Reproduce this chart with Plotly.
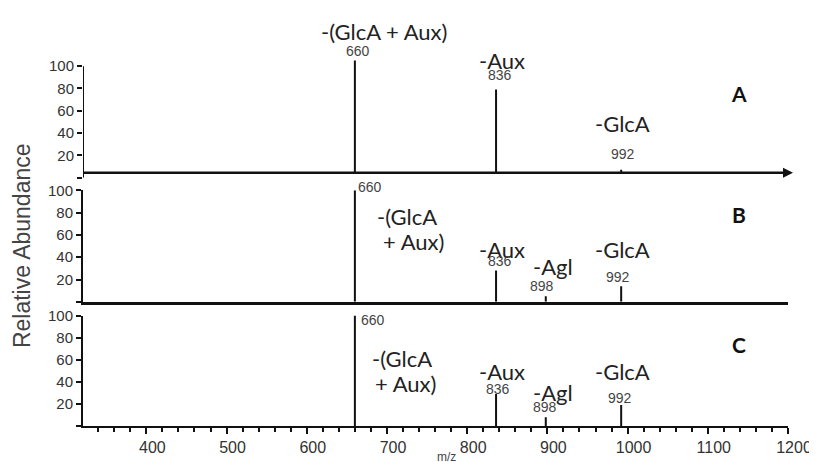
import plotly.graph_objects as go

# ---- data ----
peak_mz = [660, 836, 898, 992]
abund_A = [105, 79, 0, 7]
abund_B = [100, 28, 5, 14]
abund_C = [100, 29, 8, 19]
x_ticks = [400, 500, 600, 700, 800, 900, 1000, 1100, 1200]
y_ticks = [0, 20, 40, 60, 80, 100]
y_ticktext = ["", "20", "40", "60", "80", "100"]

X_RANGE = [321, 1200]
BASE_A = 4.4

# page geometry (plot area in page pixels: x 83..788, y 20..426)
PX0, PX1, PY1, PH = 83, 788, 426, 406


def P(px, py):
    return (px - PX0) / (PX1 - PX0), (PY1 - py) / PH


TICKFONT = dict(family="Liberation Sans, Arial", size=15, color="#333")
LBLFONT = dict(family="Lato, sans-serif", size=22, color="#222")
BOLDFONT = dict(family="Lato, sans-serif", size=21, color="#111")
NUMFONT = dict(family="Liberation Sans, Arial", size=14, color="#444")


def stems(mz, ab, base=0.0):
    xs, ys = [], []
    for m, a in zip(mz, ab):
        if a <= 0:
            continue
        xs += [m, m, None]
        ys += [base, a, None]
    return xs, ys


fig = go.Figure()
for (ab, xa, ya, base) in [(abund_A, "x3", "y3", BASE_A), (abund_B, "x2", "y2", 0), (abund_C, "x", "y", 0)]:
    xs, ys = stems(peak_mz, ab, base)
    fig.add_trace(go.Scatter(x=xs, y=ys, mode="lines", line=dict(color="#111", width=2),
                             xaxis=xa, yaxis=ya, showlegend=False, hoverinfo="skip"))

yax_common = dict(tickvals=y_ticks, ticktext=y_ticktext,
                  linecolor="#111", linewidth=2, ticks="outside", ticklen=5, tickwidth=1.5,
                  tickcolor="#111", showgrid=False, zeroline=False, tickfont=TICKFONT, fixedrange=True)

fig.update_layout(
    width=817, height=462, plot_bgcolor="white", paper_bgcolor="white",
    margin=dict(l=75, r=37, t=12, b=44),
    xaxis=dict(domain=[0, 1], anchor="y", range=X_RANGE, tickvals=x_ticks, showline=True,
               linecolor="#111", linewidth=2, ticks="outside", ticklen=6, tickwidth=1.5,
               tickcolor="#111", showgrid=False, zeroline=False, ticklabelshift=6,
               tickfont=dict(family="Liberation Sans, Arial", size=16, color="#333"),
               minor=dict(dtick=20, tick0=0, ticks="outside", ticklen=4, tickcolor="#111", tickwidth=1.5)),
    xaxis2=dict(domain=[0, 1], anchor="y2", range=X_RANGE, showline=True, linecolor="#111",
                linewidth=2.5, showticklabels=False, ticks="", showgrid=False, zeroline=False),
    xaxis3=dict(domain=[0, 1], anchor="y3", range=X_RANGE, showline=False,
                showticklabels=False, ticks="", showgrid=False, zeroline=False),
    yaxis=dict(domain=[0, P(0, 313)[1]], anchor="x", range=[0, 100], showline=True, **yax_common),
    yaxis2=dict(domain=[P(0, 299)[1], P(0, 185)[1]], anchor="x2", range=[0, 100], showline=True, **yax_common),
    # panel A: room above 100 for the tallest peak; axis line drawn as a shape up to 100
    yaxis3=dict(domain=[P(0, 172)[1], P(0, 172 - 1.14 * 106)[1]], anchor="x3", range=[0, 106],
                showline=False, **yax_common),
)

# panel A y-axis line (0..100) and baseline with arrow
fig.add_shape(type="line", xref="x3", yref="y3", x0=X_RANGE[0], x1=X_RANGE[0], y0=0, y1=100,
              line=dict(color="#111", width=2))
fig.add_shape(type="line", xref="x3", yref="y3", x0=X_RANGE[0], x1=1203, y0=BASE_A, y1=BASE_A,
              line=dict(color="#111", width=2.5))
ax_, ay_ = P(793, 167)
fig.add_annotation(xref="paper", yref="paper", x=ax_, y=ay_, ax=-9, ay=0, showarrow=True,
                   arrowhead=2, arrowsize=1, arrowwidth=2, arrowcolor="#111", text="")

# labels: (text, page-x, page-y, font, xanchor)
labels = [
    ("-(GlcA + Aux)", 384, 23, LBLFONT, "center"),
    ("660", 358, 43, NUMFONT, "center"),
    ("-Aux", 502, 52, LBLFONT, "center"),
    ("836", 500, 67, NUMFONT, "center"),
    ("-GlcA", 622, 117, LBLFONT, "center"),
    ("992", 623, 148, NUMFONT, "center"),
    ("<b>A</b>", 739, 86, BOLDFONT, "center"),

    ("660", 356, 182, NUMFONT, "left"),
    ("-(GlcA", 375, 212, LBLFONT, "left"),
    ("+ Aux)", 381, 237, LBLFONT, "left"),
    ("-Aux", 502, 245, LBLFONT, "center"),
    ("836", 500, 257, NUMFONT, "center"),
    ("-Agl", 553, 263, LBLFONT, "center"),
    ("898", 542, 283, NUMFONT, "center"),
    ("-GlcA", 622, 245, LBLFONT, "center"),
    ("992", 618, 274, NUMFONT, "center"),
    ("<b>B</b>", 739, 210, BOLDFONT, "center"),

    ("660", 359, 318, NUMFONT, "left"),
    ("-(GlcA", 370, 357, LBLFONT, "left"),
    ("+ Aux)", 373, 383, LBLFONT, "left"),
    ("-Aux", 502, 370, LBLFONT, "center"),
    ("836", 498, 388, NUMFONT, "center"),
    ("-Agl", 553, 392, LBLFONT, "center"),
    ("898", 545, 407, NUMFONT, "center"),
    ("-GlcA", 622, 370, LBLFONT, "center"),
    ("992", 620, 397, NUMFONT, "center"),
    ("<b>C</b>", 739, 343, BOLDFONT, "center"),
]
for text, px, py, font, xanchor in labels:
    x, y = P(px, py)
    fig.add_annotation(text=text, x=x, y=y, xref="paper", yref="paper", showarrow=False,
                       font=font, xanchor=xanchor, yanchor="middle")

# axis titles
x, y = P(446, 458)
fig.add_annotation(text="m/z", xref="paper", yref="paper", x=x, y=y,
                   showarrow=False, font=dict(family="Liberation Sans, Arial", size=12, color="#444"),
                   xanchor="center", yanchor="middle")
x, y = P(22, 242)
fig.add_annotation(text="Relative Abundance", xref="paper", yref="paper", x=x, y=y, textangle=-90,
                   showarrow=False, font=dict(family="Liberation Sans, Arial", size=23, color="#444"),
                   xanchor="center", yanchor="middle")

fig.write_html("out.html")
